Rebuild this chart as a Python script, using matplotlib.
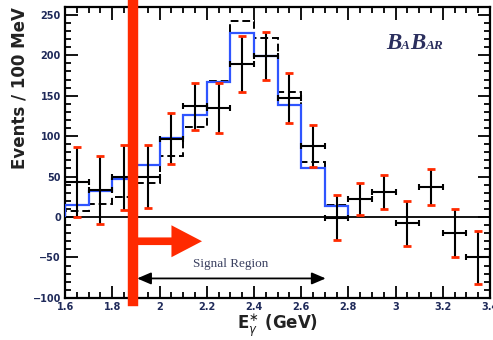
import numpy as np
import matplotlib
matplotlib.use("Agg")
import matplotlib.pyplot as plt
from matplotlib.ticker import MultipleLocator
from matplotlib.transforms import offset_copy


# binned data (100 MeV bins)
edges = [1.6, 1.7, 1.8, 1.9, 2.0, 2.1, 2.2, 2.3, 2.4, 2.5, 2.6, 2.7, 2.8]
mc_blue = [15, 32, 47, 64, 98, 126, 167, 227, 199, 138, 61, 13]
mc_dashed = [8, 16, 25, 42, 76, 111, 168, 242, 222, 155, 68, 15]

# measured points
e_gamma = [1.65, 1.75, 1.85, 1.95, 2.05, 2.15, 2.25, 2.35, 2.45,
           2.55, 2.65, 2.75, 2.85, 2.95, 3.05, 3.15, 3.25, 3.35]
events = [43, 33, 49, 50, 97, 137, 135, 189, 199,
          147, 88, -1, 22, 31, -8, 37, -20, -50]
events_err = [43, 42, 40, 39, 32, 29, 31, 35, 30,
              31, 26, 28, 20, 21, 28, 22, 30, 33]

cut = 1.887
signal_lo, signal_hi = 1.905, 2.704

tick_col = "#1f2a5a"
red = "#ff2a00"

fig = plt.figure(figsize=(4.93, 3.40), dpi=100)
ax = fig.add_axes([0.132, 0.124, 0.862, 0.856])

ax.axhline(0, color="black", lw=1.3, zorder=1)

ax.stairs(mc_dashed, edges, color="black", ls=(0, (4, 2)), lw=1.4, zorder=2)
ax.stairs(mc_blue, edges, color="#2f55ff", lw=1.6, zorder=3)

# horizontal bars (bin width), black end ticks
ax.errorbar(e_gamma, events, xerr=0.05, fmt="none", ecolor="black",
            elinewidth=1.5, capsize=2.5, capthick=1.5, zorder=4)
# vertical error bars with red caps
_, caps, _ = ax.errorbar(e_gamma, events, yerr=events_err, fmt="none",
                         ecolor="black", elinewidth=1.5, capsize=3,
                         capthick=2, zorder=4)
for c in caps:
    c.set_color(red)
    c.set_markeredgecolor(red)
    c.set_markerfacecolor(red)

# cut line and arrow
ax.axvline(cut, ymin=-0.012, ymax=1.008, color=red, lw=7.5,
           clip_on=False, zorder=6)
ax.annotate("", xy=(2.18, -30), xytext=(cut, -30),
            arrowprops=dict(arrowstyle="simple,head_length=2.2,"
                            "head_width=2.3,tail_width=0.55",
                            color=red, lw=0, shrinkA=0, shrinkB=0),
            zorder=6)

# signal region
ax.annotate("", xy=(signal_hi, -76), xytext=(signal_lo, -76),
            arrowprops=dict(arrowstyle="<|-|>,head_length=0.7,head_width=0.3",
                            color="black", lw=1.3, shrinkA=0, shrinkB=0,
                            mutation_scale=12))
ax.text(2.30, -58, "Signal Region", family="Liberation Serif",
        fontsize=9.5, color="#3a4060", ha="center", va="center")

ax.set_xlim(1.6, 3.4)
ax.set_ylim(-100, 260)
ax.xaxis.set_major_locator(MultipleLocator(0.2))
ax.xaxis.set_minor_locator(MultipleLocator(0.05))
ax.yaxis.set_major_locator(MultipleLocator(50))
ax.yaxis.set_minor_locator(MultipleLocator(10))
ax.set_xticks(np.arange(1.6, 3.41, 0.2))
ax.set_xticklabels(["1.6", "1.8", "2", "2.2", "2.4", "2.6", "2.8",
                    "3", "3.2", "3.4"])
ax.tick_params(which="both", direction="in", top=True, right=True,
               width=1.3, color="black")
ax.tick_params(which="major", length=9, labelsize=7, labelcolor=tick_col,
               pad=3)
ax.tick_params(which="minor", length=4.5)
for lab in ax.get_xticklabels() + ax.get_yticklabels():
    lab.set_fontweight("bold")
for s in ax.spines.values():
    s.set_linewidth(1.6)

ax.set_ylabel("Events / 100 MeV", fontsize=12, fontweight="bold",
              color="#222222", labelpad=3, loc="top")
ax.set_xlabel(r"E$^{\ast}_{\gamma}$ (GeV)", fontsize=12, fontweight="bold",
              color="#222222", labelpad=0)

# BaBar logo, letters of two sizes
logo_col = "#2b2f5e"
fig.canvas.draw()
renderer = fig.canvas.get_renderer()
pieces = [("B", 16.5), ("A", 9.5), ("B", 16.5), ("AR", 9.5)]
xpos = 0.755
trans = ax.transAxes
dx = 0
for txt, size in pieces:
    t = ax.text(xpos, 0.855, txt, transform=offset_copy(trans, fig=fig, x=dx,
                units="dots"),
                family="Liberation Serif", style="italic", fontweight="bold",
                fontsize=size, color=logo_col, ha="left", va="baseline")
    dx += t.get_window_extent(renderer).width

fig.savefig("out.png", dpi=100)
